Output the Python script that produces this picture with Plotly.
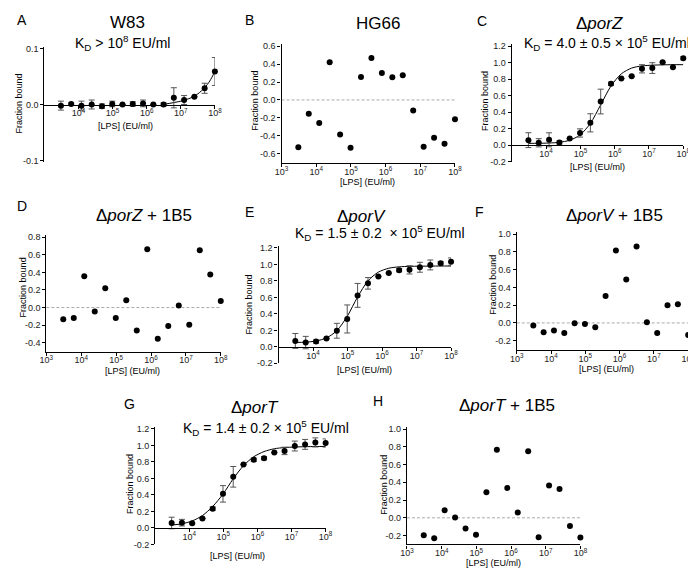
import plotly.graph_objects as go

W, H = 696, 568
FONT = "Arial, Liberation Sans, sans-serif"

# LPS concentrations (EU/ml), 2-fold dilution series
conc = [3052, 6104, 12207, 24414, 48828, 97656, 195313, 390625, 781250,
        1562500, 3125000, 6250000, 12500000, 25000000, 50000000, 100000000]

# A: W83
w83_y = [-0.002, 0.001, -0.002, 0.0, -0.003, 0.001, 0.0, 0.001, 0.002, 0.0,
         0.0, 0.012, 0.008, 0.014, 0.029, 0.059]
w83_err = [0.008, 0.002, 0.008, 0.008, 0.004, 0.005, 0.0, 0.004, 0.006, 0.0,
           0.003, 0.018, 0.008, 0.0, 0.009, 0.025]
w83_fit_x = [3.0e6, 1.0e7, 2.0e7, 3.16e7, 5.0e7, 7.08e7, 1.0e8]
w83_fit_y = [0.0, 0.006, 0.012, 0.019, 0.030, 0.042, 0.059]

# B: HG66
hg66_y = [-0.53, -0.155, -0.257, 0.42, -0.386, -0.533, 0.257, 0.47, 0.30,
          0.254, 0.276, -0.118, -0.522, -0.423, -0.489, -0.217]

# C: porZ
porz_y = [0.06, 0.028, 0.064, 0.032, 0.08, 0.147, 0.27, 0.528, 0.743, 0.807,
          0.834, 0.925, 0.934, 1.005, 0.945, 1.053]
porz_err = [0.09, 0.05, 0.085, 0.02, 0.0, 0.05, 0.11, 0.15, 0.02, 0.0, 0.0,
            0.05, 0.065, 0.0, 0.0, 0.02]
porz_fit_x = conc
porz_fit_y = [0.021, 0.022, 0.025, 0.034, 0.059, 0.123, 0.263, 0.488, 0.717,
              0.864, 0.934, 0.96, 0.969, 0.973, 0.975, 0.975]

# D: porZ + 1B5
porz1b5_y = [-0.134, -0.12, 0.357, -0.045, 0.22, -0.12, 0.082, -0.26, 0.663,
             -0.354, -0.209, 0.022, -0.197, 0.652, 0.376, 0.074]

# E: porV
porv_y = [0.072, 0.052, 0.064, 0.1, 0.195, 0.338, 0.624, 0.77, 0.854, 0.894,
          0.93, 0.934, 0.965, 0.993, 1.013, 1.033]
porv_err = [0.09, 0.075, 0.02, 0.0, 0.09, 0.17, 0.145, 0.07, 0.0, 0.0, 0.02,
            0.05, 0.06, 0.06, 0.02, 0.045]
porv_fit_x = conc
porv_fit_y = [0.053, 0.057, 0.071, 0.108, 0.196, 0.37, 0.605, 0.80, 0.906,
              0.953, 0.97, 0.976, 0.978, 0.979, 0.98, 0.98]

# F: porV + 1B5
porv1b5_y = [-0.03, -0.106, -0.084, -0.114, -0.004, -0.011, -0.048, 0.304,
             0.817, 0.491, 0.861, 0.007, -0.114, 0.2, 0.212, -0.136]

# G: porT
port_y = [0.06, 0.064, 0.056, 0.115, 0.234, 0.413, 0.62, 0.77, 0.826, 0.846,
          0.914, 0.934, 0.993, 1.013, 1.037, 1.03]
port_err = [0.07, 0.04, 0.01, 0.0, 0.02, 0.1, 0.125, 0.0, 0.02, 0.02, 0.0,
            0.045, 0.06, 0.06, 0.055, 0.05]
port_fit_x = conc
port_fit_y = [0.035, 0.05, 0.085, 0.15, 0.26, 0.41, 0.596, 0.755, 0.863,
              0.926, 0.96, 0.975, 0.981, 0.985, 0.987, 0.988]

# H: porT + 1B5
port1b5_y = [-0.198, -0.23, 0.084, 0.004, -0.121, -0.19, 0.289, 0.767, 0.337,
             0.059, 0.751, -0.22, 0.363, 0.326, -0.092, -0.223]

panels = [
    dict(letter="A", title="W83", sub="K<sub>D</sub> > 10<sup>8</sup> EU/ml",
         y=w83_y, err=w83_err, fx=w83_fit_x, fy=w83_fit_y,
         xd=(30, 204), yd=(36, 152), yr=[-0.102, 0.102], ticks=[-0.1, 0.0, 0.1],
         axis0=True, letter_xy=(7, 8), title_xy=(115, 11), sub_xy=(110, 32),
         ytitle_xy=(4, 93), xtitle_xy=(113, 116)),
    dict(letter="B", title="HG66", sub=None, y=hg66_y, err=None, fx=None, fy=None,
         xd=(272, 449), yd=(33, 153), yr=[-0.7, 0.62],
         ticks=[-0.6, -0.4, -0.2, 0.0, 0.2, 0.4, 0.6],
         axis0=False, letter_xy=(239, 8), title_xy=(370, 12), sub_xy=None,
         ytitle_xy=(245, 90), xtitle_xy=(360, 173)),
    dict(letter="C", title="Δ<i>porZ</i>", sub="K<sub>D</sub> = 4.0 ± 0.5 × 10<sup>5</sup> EU/ml",
         y=porz_y, err=porz_err, fx=porz_fit_x, fy=porz_fit_y,
         xd=(507, 682), yd=(33, 152), yr=[-0.2, 1.22],
         ticks=[-0.2, 0.0, 0.2, 0.4, 0.6, 0.8, 1.0, 1.2],
         axis0=True, letter_xy=(477, 9), title_xy=(596, 12), sub_xy=(604, 32),
         ytitle_xy=(479, 90), xtitle_xy=(594, 157)),
    dict(letter="D", title="Δ<i>porZ</i> + 1B5", sub=None, y=porz1b5_y, err=None, fx=None, fy=None,
         xd=(32, 210), yd=(227, 345), yr=[-0.5, 0.82],
         ticks=[-0.4, -0.2, 0.0, 0.2, 0.4, 0.6, 0.8],
         axis0=False, letter_xy=(7, 197), title_xy=(132, 207), sub_xy=None,
         ytitle_xy=(8, 280), xtitle_xy=(120, 365)),
    dict(letter="E", title="Δ<i>porV</i>", sub="K<sub>D</sub> = 1.5 ± 0.2  × 10<sup>5</sup> EU/ml",
         y=porv_y, err=porv_err, fx=porv_fit_x, fy=porv_fit_y,
         xd=(269, 445), yd=(238, 357), yr=[-0.2, 1.22],
         ticks=[-0.2, 0.0, 0.2, 0.4, 0.6, 0.8, 1.0, 1.2],
         axis0=True, letter_xy=(239, 203), title_xy=(354, 208), sub_xy=(372, 225),
         ytitle_xy=(239, 297), xtitle_xy=(357, 364)),
    dict(letter="F", title="Δ<i>porV</i> + 1B5", sub=None, y=porv1b5_y, err=None, fx=None, fy=None,
         xd=(512, 687), yd=(224, 343), yr=[-0.3, 1.02],
         ticks=[-0.2, 0.0, 0.2, 0.4, 0.6, 0.8, 1.0],
         axis0=False, letter_xy=(474, 203), title_xy=(612, 207), sub_xy=None,
         ytitle_xy=(487, 277), xtitle_xy=(604, 363)),
    dict(letter="G", title="Δ<i>porT</i>", sub="K<sub>D</sub> = 1.4 ± 0.2 × 10<sup>5</sup> EU/ml",
         y=port_y, err=port_err, fx=port_fit_x, fy=port_fit_y,
         xd=(143, 317), yd=(422, 541), yr=[-0.2, 1.22],
         ticks=[-0.2, 0.0, 0.2, 0.4, 0.6, 0.8, 1.0, 1.2],
         axis0=True, letter_xy=(117, 398), title_xy=(245, 402), sub_xy=(256, 423),
         ytitle_xy=(118, 480), xtitle_xy=(227, 553)),
    dict(letter="H", title="Δ<i>porT</i> + 1B5", sub=None, y=port1b5_y, err=None, fx=None, fy=None,
         xd=(400, 577), yd=(422, 541), yr=[-0.3, 1.02],
         ticks=[-0.2, 0.0, 0.2, 0.4, 0.6, 0.8, 1.0],
         axis0=False, letter_xy=(370, 395), title_xy=(502, 400), sub_xy=None,
         ytitle_xy=(377, 480), xtitle_xy=(488, 560)),
]


def fx(p):
    return p / W


def fy(p):
    return 1 - p / H


fig = go.Figure()
annotations = []
shapes = []
layout = {}
dec_vals = [1e3, 1e4, 1e5, 1e6, 1e7, 1e8]
dec_text = ["10<sup>%d</sup>" % k for k in range(3, 9)]

for i, p in enumerate(panels):
    n = i + 1
    xa = "x" if n == 1 else "x%d" % n
    ya = "y" if n == 1 else "y%d" % n
    xkey = "xaxis" if n == 1 else "xaxis%d" % n
    ykey = "yaxis" if n == 1 else "yaxis%d" % n

    if p["fx"] is not None:
        fig.add_trace(go.Scatter(x=p["fx"], y=p["fy"], mode="lines",
                                 line=dict(color="black", width=1, shape="spline", smoothing=0.8),
                                 xaxis=xa, yaxis=ya, showlegend=False, hoverinfo="skip"))
    err = None
    if p["err"] is not None:
        err = dict(type="data", array=p["err"], visible=True, color="#555555", thickness=1, width=3)
    fig.add_trace(go.Scatter(x=conc, y=p["y"], mode="markers", marker=dict(color="black", size=6),
                             error_y=err, xaxis=xa, yaxis=ya, showlegend=False, cliponaxis=False))

    y0, y1 = p["yd"]
    ydom = [fy(y1), fy(y0)]
    xdom = [fx(p["xd"][0]), fx(p["xd"][1])]
    if p["axis0"]:
        tv, tt = dec_vals[1:], dec_text[1:]
    else:
        tv, tt = dec_vals, dec_text
    xaxis = dict(domain=xdom, type="log", range=[3, 8], tickvals=tv, ticktext=tt,
                 showline=True, linecolor="black", linewidth=1.3, ticks="outside", ticklen=3,
                 tickwidth=1.2, tickcolor="black", showgrid=False, zeroline=False,
                 ticklabelstandoff=-3,
                 tickfont=dict(family=FONT, size=9, color="#222"), fixedrange=True)
    if p["axis0"]:
        frac0 = (0 - p["yr"][0]) / (p["yr"][1] - p["yr"][0])
        xaxis.update(anchor="free", position=ydom[0] + frac0 * (ydom[1] - ydom[0]))
    else:
        xaxis.update(anchor=ya)
    yaxis = dict(domain=ydom, range=p["yr"], anchor=xa, tickvals=p["ticks"],
                 ticktext=["%.1f" % t for t in p["ticks"]],
                 showline=True, linecolor="black", linewidth=1.3, ticks="outside", ticklen=3,
                 tickwidth=1.2, tickcolor="black", showgrid=False, zeroline=False,
                 tickfont=dict(family=FONT, size=9, color="#222"), fixedrange=True)
    layout[xkey] = xaxis
    layout[ykey] = yaxis

    if not p["axis0"]:
        shapes.append(dict(type="line", xref="%s domain" % xa, yref=ya, x0=0, x1=1, y0=0, y1=0,
                           line=dict(color="#aaaaaa", width=1, dash="3px,2px"), layer="below"))

    def ann(text, xy, size, angle=0):
        annotations.append(dict(text=text, x=fx(xy[0]), y=fy(xy[1]), xref="paper", yref="paper",
                                xanchor="center", yanchor="middle", showarrow=False,
                                textangle=angle, font=dict(family=FONT, size=size, color="black")))

    ann(p["letter"], p["letter_xy"], 14)
    ann(p["title"], p["title_xy"], 17)
    if p["sub"]:
        ann(p["sub"], p["sub_xy"], 14)
    ann("Fraction bound", p["ytitle_xy"], 9, -90)
    ann("[LPS] (EU/ml)", p["xtitle_xy"], 9)

fig.update_layout(width=W, height=H, autosize=False, margin=dict(l=0, r=0, t=0, b=0),
                  paper_bgcolor="white", plot_bgcolor="white",
                  annotations=annotations, shapes=shapes, **layout)
fig.write_html("out.html")
